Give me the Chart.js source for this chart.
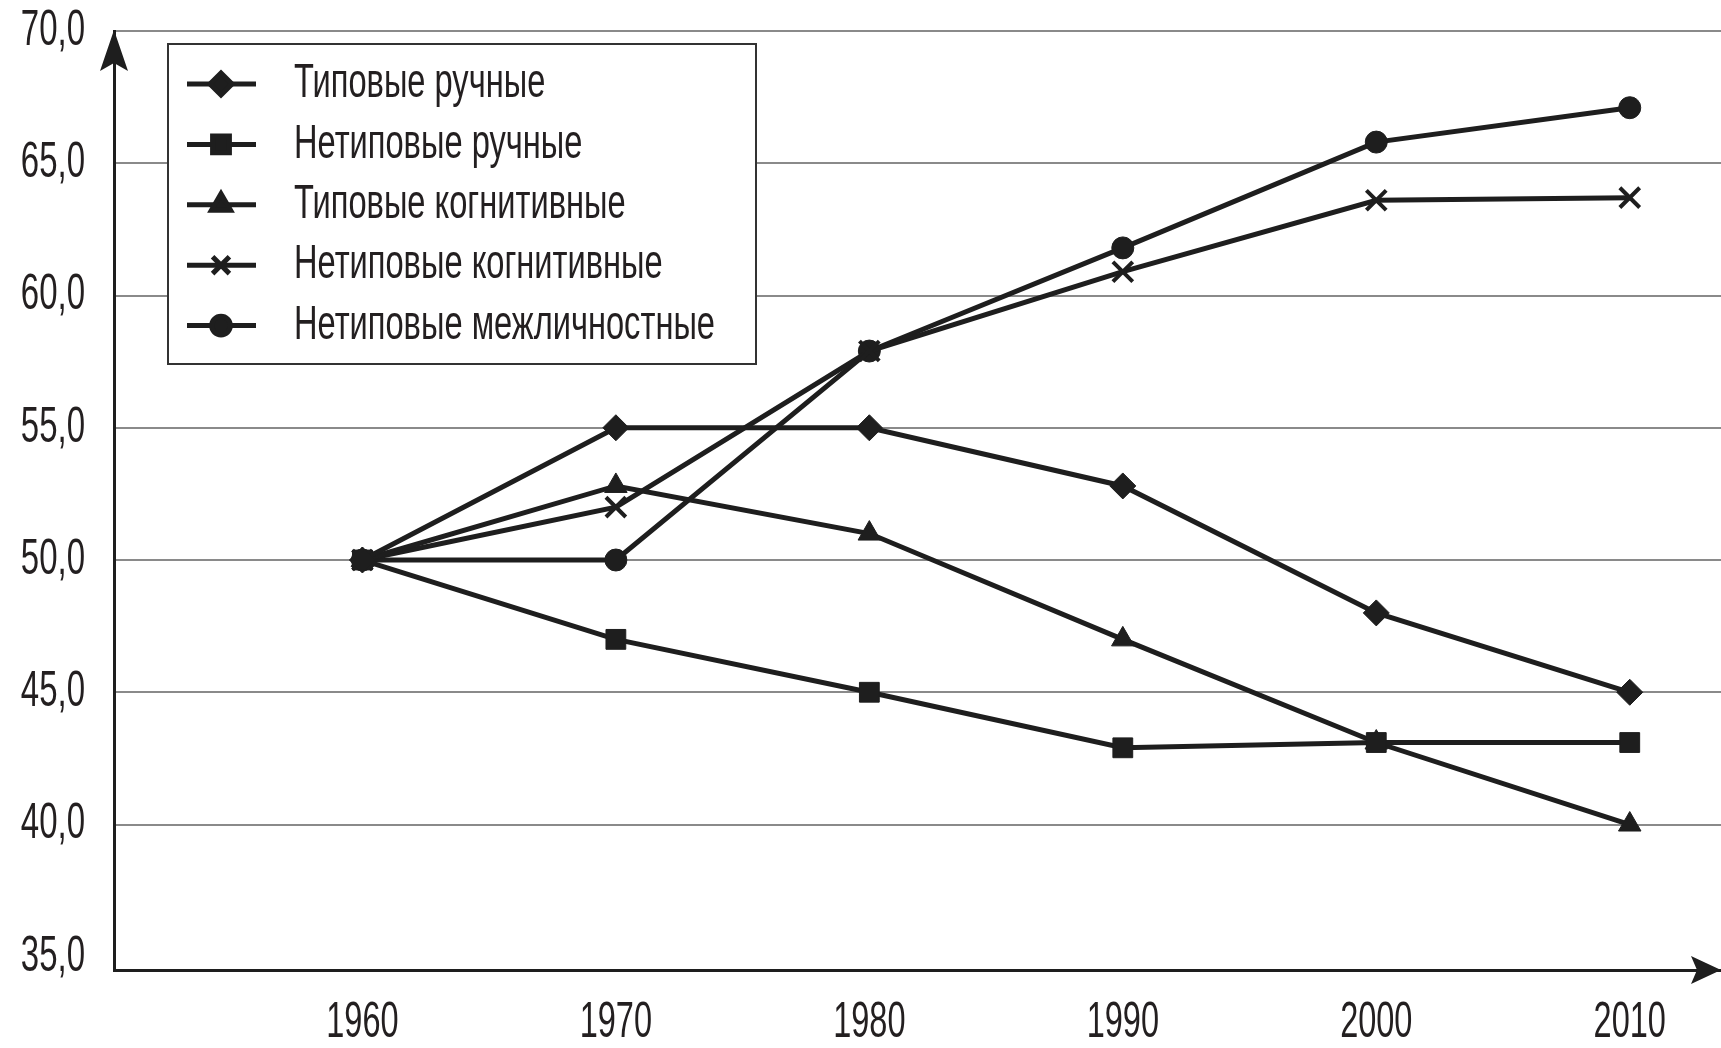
<!DOCTYPE html>
<html>
<head>
<meta charset="utf-8">
<script src="https://cdn.jsdelivr.net/npm/chart.js@4.4.1/dist/chart.umd.min.js"></script>
<style>
html, body { margin: 0; padding: 0; background: #fff; }
#wrap { width: 1721px; height: 1048px; }
</style>
</head>
<body>
<div id="wrap"><canvas id="chart"></canvas></div>
<script>
const years = [1960, 1970, 1980, 1990, 2000, 2010]
const typicalManual = [50, 55, 55, 52.8, 48, 45]
const nonTypicalManual = [50, 47, 45, 42.9, 43.1, 43.1]
const typicalCognitive = [50, 52.8, 51, 47, 43.1, 40]
const nonTypicalCognitive = [50, 52, 57.9, 60.9, 63.6, 63.7]
const nonTypicalInterpersonal = [50, 50, 57.9, 61.8, 65.8, 67.1]
const seriesNames = ["Типовые ручные", "Нетиповые ручные", "Типовые когнитивные", "Нетиповые когнитивные", "Нетиповые межличностные"]
const yTicks = [35, 40, 45, 50, 55, 60, 65, 70]

const FONT = "'Liberation Sans', Arial, sans-serif"
const INK = "#1e1e1e"
const TEXT = "#231f20"

const markers = [
    { style: "rectRot", radius: 13, border: 1 },
    { style: "rect", radius: 14, border: 1 },
    { style: "triangle", radius: 13, border: 1 },
    { style: "crossRot", radius: 14, border: 4 },
    { style: "circle", radius: 11, border: 1 }
]

const allSeries = [typicalManual, nonTypicalManual, typicalCognitive, nonTypicalCognitive, nonTypicalInterpersonal]

const datasets = allSeries.map((vals, i) => ({
    label: seriesNames[i],
    data: years.map((yr, j) => ({ x: yr, y: vals[j] })),
    borderColor: INK,
    borderWidth: 5,
    backgroundColor: INK,
    pointStyle: markers[i].style,
    pointRadius: markers[i].radius,
    pointHoverRadius: markers[i].radius,
    pointBorderWidth: markers[i].border,
    pointBackgroundColor: INK,
    pointBorderColor: INK,
    tension: 0
}))

// narrow text: the original uses a condensed face, so squeeze horizontally
function narrowText(ctx, str, x, y, align, sx) {
    ctx.save()
    ctx.translate(x, y)
    ctx.scale(sx, 1)
    ctx.textAlign = align
    ctx.fillText(str, 0, 0)
    ctx.restore()
}

const extras = {
    id: "extras",
    afterDraw(chart) {
        const ctx = chart.ctx
        const area = chart.chartArea
        const xs = chart.scales.x
        const ys = chart.scales.y
        ctx.save()

        // tick labels
        ctx.fillStyle = TEXT
        ctx.font = "50px " + FONT
        ctx.textBaseline = "middle"
        yTicks.forEach(v => {
            narrowText(ctx, v.toFixed(1).replace(".", ","), area.left - 29, ys.getPixelForValue(v), "right", 0.66)
        })
        years.forEach(v => {
            narrowText(ctx, String(v), xs.getPixelForValue(v), area.bottom + 53, "center", 0.65)
        })

        // arrows
        ctx.fillStyle = INK
        ctx.beginPath()
        ctx.moveTo(area.left, area.top - 1)
        ctx.lineTo(area.left - 14, area.top + 40)
        ctx.lineTo(area.left, area.top + 32)
        ctx.lineTo(area.left + 14, area.top + 40)
        ctx.closePath()
        ctx.fill()
        ctx.beginPath()
        ctx.moveTo(area.right, area.bottom)
        ctx.lineTo(area.right - 30, area.bottom - 14)
        ctx.lineTo(area.right - 24, area.bottom)
        ctx.lineTo(area.right - 30, area.bottom + 14)
        ctx.closePath()
        ctx.fill()

        // legend box
        const bx = 168, by = 44, bw = 588, bh = 320
        ctx.fillStyle = "#fff"
        ctx.fillRect(bx, by, bw, bh)
        ctx.strokeStyle = "#333"
        ctx.lineWidth = 2
        ctx.strokeRect(bx, by, bw, bh)
        ctx.font = "48px " + FONT
        const longest = Math.max(...seriesNames.map(n => ctx.measureText(n).width))
        const sx = 421 / longest
        seriesNames.forEach((name, i) => {
            const y = 84 + i * 60.4
            ctx.strokeStyle = INK
            ctx.lineWidth = 5
            ctx.beginPath()
            ctx.moveTo(187, y)
            ctx.lineTo(256, y)
            ctx.stroke()
            ctx.fillStyle = INK
            Chart.helpers.drawPoint(ctx, {
                pointStyle: markers[i].style,
                radius: markers[i].radius * 0.85,
                rotation: 0,
                borderWidth: markers[i].border
            }, 221, y)
            ctx.fillStyle = TEXT
            narrowText(ctx, name, 294, y, "left", sx)
        })
        ctx.restore()
    }
}

const chart = new Chart(document.getElementById("chart"), {
    type: "line",
    data: { datasets: datasets },
    options: {
        responsive: true,
        maintainAspectRatio: false,
        animation: false,
        layout: { autoPadding: false, padding: { top: 31, right: 0, bottom: 0, left: 0 } },
        plugins: {
            legend: { display: false },
            tooltip: { enabled: false }
        },
        scales: {
            x: {
                type: "linear",
                min: 1950.2,
                max: 2013.6,
                afterBuildTicks: s => { s.ticks = years.map(v => ({ value: v })) },
                afterFit: s => { s.height = 78 },
                grid: { display: false, drawTicks: false },
                border: { color: INK, width: 3 },
                ticks: { display: false }
            },
            y: {
                min: 34.5,
                max: 70,
                afterBuildTicks: s => { s.ticks = yTicks.map(v => ({ value: v })) },
                afterFit: s => { s.width = 114 },
                grid: {
                    drawTicks: false,
                    lineWidth: 2,
                    color: c => (c.tick && c.tick.value === 35) ? "rgba(0,0,0,0)" : "#8a8a8a"
                },
                border: { color: INK, width: 3 },
                ticks: { display: false }
            }
        }
    },
    plugins: [extras]
})
</script>
</body>
</html>
